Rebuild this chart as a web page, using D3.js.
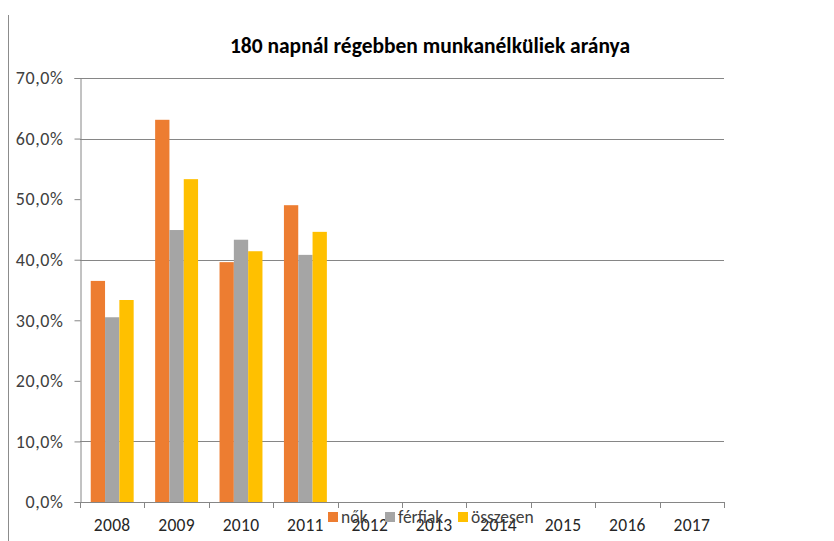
<!DOCTYPE html>
<html><head><meta charset="utf-8">
<script src="https://cdn.jsdelivr.net/npm/d3@7"></script>
<style>
body{margin:0;background:#fff;}
text{font-family:Carlito,"Liberation Sans Narrow","Open Sans",sans-serif;}
</style></head>
<body><svg id="c" width="834" height="541"></svg>
<script>
const categories = ["2008","2009","2010","2011","2012","2013","2014","2015","2016","2017"];
const seriesNames = ["nők","férfiak","összesen"];
const nok      = [36.5, 63.1, 39.6, 49.0, null, null, null, null, null, null];
const ferfiak  = [30.5, 44.9, 43.3, 40.8, null, null, null, null, null, null];
const osszesen = [33.35, 53.3, 41.4, 44.6, null, null, null, null, null, null];
const yTicks = [0,10,20,30,40,50,60,70];
const gridValues = [10,40,60,70];
const title = "180 napnál régebben munkanélküliek aránya";
const colors = ["#ED7D31","#A5A5A5","#FFC000"];

const svg = d3.select("#c");
const m = {l:80, r:110, t:78, b:39};
const W = 834, H = 541;
const x = d3.scaleBand().domain(categories).range([m.l, W-m.r]).paddingInner(0).paddingOuter(0);
const y = d3.scaleLinear().domain([0,70]).range([H-m.b, m.t]);
const series = [nok, ferfiak, osszesen];
const xs = d3.scaleBand().domain(d3.range(3)).range([0, x.bandwidth()]).paddingInner(0).paddingOuter(0.75);

// left border line
svg.append("line").attr("x1",8.5).attr("x2",8.5).attr("y1",15).attr("y2",H).attr("stroke","#8c8c8c").attr("stroke-width",1);

// title
svg.append("text").attr("x",430).attr("y",53).attr("text-anchor","middle")
  .attr("font-size",21.5).attr("font-weight","bold").attr("fill","#000").text(title);

// gridlines
svg.append("g").selectAll("line").data(gridValues).join("line")
  .attr("x1",m.l).attr("x2",W-m.r).attr("y1",d=>Math.round(y(d))+0.5).attr("y2",d=>Math.round(y(d))+0.5)
  .attr("stroke","#868686").attr("stroke-width",1);

// bars
series.forEach((s,i)=>{
  svg.append("g").selectAll("rect").data(categories.map((c,j)=>({c,v:s[j]})).filter(d=>d.v!=null)).join("rect")
    .attr("x",d=>x(d.c)+xs(i)).attr("width",xs.bandwidth())
    .attr("y",d=>y(d.v)).attr("height",d=>y(0)-y(d.v)).attr("fill",colors[i]);
});

// y axis
const yAxis = d3.axisLeft(y).tickValues(yTicks).tickSize(6).tickPadding(11)
  .tickFormat(d=>d3.format(".1f")(d).replace(".",",")+"%");
const ga = svg.append("g").attr("transform",`translate(${m.l+0.5},0)`).call(yAxis);
ga.selectAll("path,line").attr("stroke","#868686");
ga.selectAll("text").attr("font-size",18).attr("letter-spacing","0.6px").attr("fill","#404040");

// x axis
const xAxis = d3.axisBottom(x).tickSize(0).tickPadding(16);
const gx = svg.append("g").attr("transform",`translate(0,${Math.round(y(0))+0.5})`).call(xAxis);
gx.select("path").attr("stroke","#868686").attr("d",`M${m.l},0H${W-m.r}`);
gx.selectAll("text").attr("font-size",17.5).attr("letter-spacing","0.3px").attr("fill","#262626");
// category boundary ticks
svg.append("g").selectAll("line").data(categories.concat(["end"])).join("line")
  .attr("x1",(d,i)=>Math.round(m.l + i*x.bandwidth())+0.5).attr("x2",(d,i)=>Math.round(m.l + i*x.bandwidth())+0.5)
  .attr("y1",Math.round(y(0))).attr("y2",Math.round(y(0))+6).attr("stroke","#868686");

// legend
const lg = svg.append("g");
const legX = [328, 385, 458];
seriesNames.forEach((n,i)=>{
  lg.append("rect").attr("x",legX[i]).attr("y",512).attr("width",10).attr("height",10).attr("fill",colors[i]);
  lg.append("text").attr("x",legX[i]+13).attr("y",523).attr("font-size",17.5).attr("fill","#404040").text(n);
});
</script></body></html>
